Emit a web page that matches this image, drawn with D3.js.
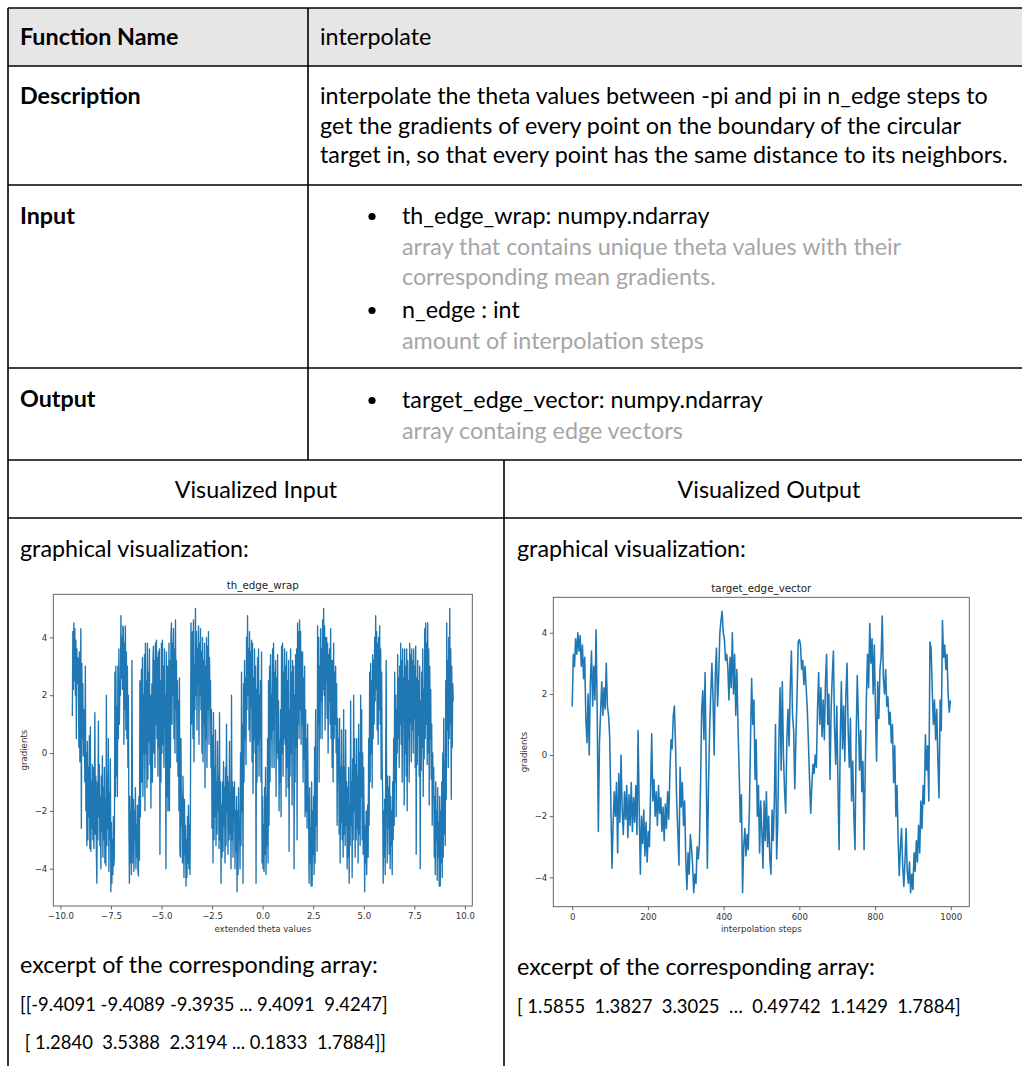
<!DOCTYPE html>
<html>
<head>
<meta charset="utf-8">
<script src="https://cdn.jsdelivr.net/npm/d3@7"></script>
<style>
  body { margin: 0; background: #fff; }
  svg { display: block; }
</style>
</head>
<body>
<svg id="page" width="1022" height="1066"></svg>
<script>
// ---- table text ----
const headerCells = ['Function Name', 'interpolate'];
const rowTitles = ['Description', 'Input', 'Output'];
const descLines = [
  'interpolate the theta values between -pi and pi in n_edge steps to',
  'get the gradients of every point on the boundary of the circular',
  'target in, so that every point has the same distance to its neighbors.',
];
const inputItems = [
  { name: 'th_edge_wrap: numpy.ndarray', note: ['array that contains unique theta values with their', 'corresponding mean gradients.'] },
  { name: 'n_edge : int', note: ['amount of interpolation steps'] },
];
const outputItems = [
  { name: 'target_edge_vector: numpy.ndarray', note: ['array containg edge vectors'] },
];
const vizHeads = ['Visualized Input', 'Visualized Output'];
const vizCaption = 'graphical visualization:';
const excerptCaption = 'excerpt of the corresponding array:';
const excerptLeft = ['[[-9.4091 -9.4089 -9.3935 ... 9.4091  9.4247]', ' [ 1.2840  3.5388  2.3194 ... 0.1833  1.7884]]'];
const excerptRight = ['[ 1.5855  1.3827  3.3025  \u2026  0.49742  1.1429  1.7884]'];

// ---- chart data ----
// th_edge_wrap: gradients along the extended theta range, left to right
const wrapThetaRange = [-9.4091, 9.4247];
const wrapGradients = [
  1.28, 4.2, 2.2, 4.5, 2.5, 4.3, 2.0, 3.9, 0.5, 3.6, 2.4, 3.3, 3.0, 0.2, 3.5, -0.3, 2.7, 4.3,
  -2.6, 3.1, 0.5, 2.4, -0.1, 1.5, 0.9, -1.0, 3.0, -2.0, 0.0, -3.2, 0.4, -3.0, -0.5, -2.2, 0.6, -3.3,
  0.9, -3.4, -1.0, -2.6, -0.4, -3.0, -0.5, -3.3, -1.5, 1.4, -2.8, -0.8, -3.5, -4.5, -1.0, -3.0, 1.1, -2.2,
  -0.4, -3.2, -1.5, -4.0, -0.8, -2.7, -0.1, -3.6, -1.2, -3.0, -0.5, -3.8, -1.6, -3.9, 2.0, -3.2, -0.8, -2.6,
  0.5, -4.1, -1.4, -3.0, -0.2, -4.8, -2.4, -4.5, -3.0, -4.2, -2.2, -3.9, -3.5, 2.8, -1.5, 3.0, -0.8, 1.6,
  -1.5, 3.0, 0.5, 3.6, 1.0, 2.5, 2.0, 4.75, 2.6, 4.0, 2.2, 4.4, 4.3, 0.3, 3.8, 1.5, 4.4, 0.8,
  3.5, 0.5, 3.0, -0.5, 2.0, -2.5, -4.5, -1.5, -3.8, -2.0, -4.2, 3.2, -1.0, -3.8, -1.6, -4.1, -2.0, -3.0,
  -1.2, -4.0, -2.5, -3.6, -1.8, -4.1, -4.25, -1.5, -3.7, 2.5, -2.2, 0.5, 2.9, -1.0, 3.3, -1.5, 2.0, 0.0,
  3.4, -2.0, 3.8, 0.0, 2.5, -1.2, 3.8, -0.9, 2.8, 0.4, 3.6, -0.4, 2.0, -1.9, 1.0, 2.4, -1.0, 3.2,
  3.7, 0.0, 3.2, -0.5, 3.8, 1.0, 3.9, 0.5, 3.3, -0.8, 3.5, 0.2, 3.6, -3.5, 2.5, -1.0, 3.8, 0.0,
  3.9, 0.3, 3.0, -0.5, 3.6, 1.0,
  2.0, -4.0, 3.5, -1.5, 3.0, -2.0, 1.0, 3.8, -2.0, 3.2, -0.5, 4.0, 4.5, 1.0, 3.8, 2.0, 4.3, 0.5,
  3.6, 0.0, 4.6, 1.5, 3.2, -0.3, 2.5, -0.8, 1.8, -2.0, 2.6, -3.5, -3.6, 0.5, -2.5, -1.5, -3.8, -0.8,
  -2.0, -4.3, -1.6, -3.5, -2.5, -4.6, -3.0, -4.3, -2.2, -3.8, -1.8, -4.0, -2.5, -4.2, -1.5, 4.5, 1.0, 3.5,
  4.2, 0.5, 4.6, -0.3, 3.0, 1.5, 5.0, 2.0, 4.2, 0.8, 3.6, 2.4, 4.4, 0.3, 3.8, 2.0, 4.3, 1.5,
  3.5, 0.0, 4.0, -0.3, 3.2, 1.0, 3.8, -1.2, 3.0, 0.5, 4.0, -0.5, 3.7, 1.5, 4.2, 0.3, 3.3, 1.8,
  2.5, -0.5, 1.5, -2.6, 0.6, -3.8, 1.4, -3.0, -0.5, -2.2, 0.8, -3.2, -1.0, -2.8, 0.4, -2.0, -0.8, -3.3,
  1.4, -3.0, -1.0, -4.5, -1.8, -3.6, -1.0, -3.4, -0.3, -2.5, -1.2, -3.8, -0.5, -3.2, 1.0, -2.0, -0.8, -3.5,
  -1.0, -3.0, 0.4, -2.8, -1.5, -4.0, 2.0, -3.0, -1.0, -3.6, -1.2, -2.2, -1.0, -4.0, -2.0, -3.4, -1.5, -4.8,
  -2.0, -4.2, -1.2, -3.0, -2.4, -4.0, 0.0, -3.2, 2.8, -2.0, 1.0, -4.5, 2.4, -1.0, 3.2, 0.5, 2.6, -0.4,
  4.0, 1.5, 4.75, 2.0, 3.6, 0.8, 4.2, 0.4, 3.5, 1.6, 3.9, -0.3, 3.8, -1.4, 2.6, 0.5, 3.6, 0.0,
  3.0, -4.5, 2.2, -1.0, 3.3, 0.3, 3.6, -0.8, 2.0, 0.5,
  2.5, -1.0, 3.5, -3.8, -1.5, -4.0, -2.5, -4.1, -1.2, -3.5, -0.5, -4.2, -1.5, -3.2, 0.5, -3.8, 2.5, -2.5,
  3.0, -1.0, 3.4, 0.5, 2.0, -0.5, 3.6, 0.8, 3.8, -0.5, 2.8, 1.5, 3.2, -1.5, 2.6, 0.0, 3.4, -0.2,
  1.8, -2.0, 0.4, -1.0, 1.5, -2.2, 3.7, 0.0, 3.8, -0.8, 2.8, 0.5, 3.6, 0.3, 3.0, -1.5, 3.5, -0.5,
  2.5, -1.2, 3.2, -3.4, 1.5, -0.8, 3.6, 0.0, 2.8, -1.8, 3.2, 0.5, 3.0, -4.0, 2.0, -1.0, 3.4, 0.2,
  3.6, -3.0, 4.5, 1.0, 4.2, 0.5, 4.6, 1.5, 4.2, 0.3, 3.5, 1.0, 3.5, -1.0, 2.6, -0.2, 3.0, -2.2,
  1.5, -2.0, 0.5, -2.6, 1.0, -1.5, -2.0, -4.5, -1.2, -3.8, -2.6, -4.6, -1.0, -4.6, -2.0, -3.5, -1.5, -4.2,
  0.2, -3.8, 1.5, -2.5, -1.0, -3.4, 4.4, 1.0, 4.0, -1.0, 3.0, 0.5, 4.3, 1.8, 3.6, 0.5, 4.6, 2.2,
  5.0, 2.0, 4.4, 0.8, 4.0, 2.5, 4.0, 1.2, 3.8, 0.0, 3.4, 1.8, 3.6, 1.0, 4.3, 0.5, 3.2, -0.5,
  3.2, -1.0, 3.8, 0.5, 2.8, 1.0, 3.0, 0.0, 2.4, -2.5, 1.2, -1.0, 0.5, -2.8, 1.2, -3.8, -0.5, -2.4,
  0.8, -3.0, -0.5, -3.6, 1.5, -2.8, -0.5, -3.2, 0.8, -2.5, -1.0, -4.0, -1.2, -3.6, -0.5, -4.5, -1.8, -3.2,
  1.8, -2.5, -1.0, -4.3, -0.2, -3.0, 2.0, -2.0, 0.5, -3.6,
  -0.4, -3.0, 0.5, -2.6, -0.8, -3.8, 1.0, -2.8, 0.0, -3.2, 2.0, -1.5, 1.5, -3.0, 0.0, -3.5, -0.5, -2.5,
  -4.8, -2.5, -3.8, -2.0, -4.2, -2.8, -1.8, -3.6, 0.5, -2.5, 2.8, -1.0, 3.1, 0.0, 2.5, -1.2, 3.4, 0.5,
  3.2, 1.0, 4.0, 1.8, 4.75, 2.2, 4.2, 0.8, 3.8, 0.3, 4.0, 1.5, 4.4, 1.0, 3.6, -0.9, 2.8, -0.5,
  -1.5, -4.5, -2.0, -3.6, -1.6, -4.2, -0.5, 3.2, -1.5, -3.8, -0.8, -2.6, -1.2, -3.5, -0.8, -4.0, -1.5, -3.2,
  -2.0, -4.2, -1.0, -3.0, 0.5, -2.5, 2.8, -1.0, 2.0, -2.2, 1.5, 0.0, 3.4, 0.5, 2.6, -0.5, 3.0, 1.0,
  3.8, 0.3, 3.2, -1.0, 3.6, 1.2, 2.6, -1.8, 3.6, 0.0, 3.0, -0.8, 3.6, -2.0, 3.2, 0.5, 2.5, -1.0,
  3.8, 1.0, 3.4, -0.3, 3.6, 0.8, 3.2, 0.0, 3.6, 1.2, 3.0, -0.5, 3.7, -3.5, 2.6, -0.4, 3.2, 0.6,
  2.5, -0.8, 3.0, -4.0, 1.8, -0.6, 2.8, 0.2, 3.6, -1.5, 2.2, -0.2, 4.3, 0.5, 4.5, 1.0, 3.8, -0.4,
  4.5, 0.0, 3.6, -1.8, 3.0, 0.5, 2.2, -0.9, 1.0, -2.5, 0.0, -1.5, -0.5, -3.6, -1.5, -4.2, -1.0, -3.0,
  -2.0, -4.4, -1.2, -3.6, -2.4, -4.6, -1.5, -4.6, -2.0, -3.8, -1.0, -4.3, 0.0, -3.6, 1.2, -2.8, -0.3, -3.2,
  2.5, -1.6, 4.5, 0.8, 3.2, -0.5, 4.0, 0.5, 5.0, 1.0, 3.6, -1.6, 3.0, 0.2, 2.4, 1.7884,
];

// target_edge_vector: one reading every third interpolation step (0 .. 999)
const edgeStride = 3;
const edgeVector = [
  1.59, 3.3, 2.9, 3.8, 3.3, 4.0, 3.4, 3.9, 2.9, 3.6,
  2.5, 3.2, 1.2, 0.4, 2.0, 0.0, 2.4, 3.4, 1.6, 2.9, 1.8, 4.1,
  1.5, -2.5, 0.4, 1.4, 2.4, 1.3, 2.2, 1.5, 3.0, 1.6,
  1.3, 0.6, -1.5, -3.7, -2.3, -1.2, -2.0, -0.9, -3.2, -0.6, -2.2, 0.0, -1.8,
  -2.6, -1.2, -2.1, -1.0, -2.7, -1.3, -2.3, -0.9, -2.5, -1.4, -2.2, -1.0, -2.6, 0.8,
  -1.8, -3.9, -2.0, -2.9, -1.8, -3.3, -2.2, -3.5, -2.5,
  -3.0, -1.2, 0.7, -1.5, -0.8, -2.0,
  -1.2, -2.3, -1.0, -1.9, -1.4, -2.5, -1.7, -2.8, -1.6, -2.4, -1.2, -2.1,
  -0.6, 0.5, 0.2, 1.3, 1.6, 0.3,
  -1.5, -2.5, -3.6, -0.4, -1.7, -0.9, -2.3, -1.5,
  -3.4, -4.4, -3.2, -3.9, -2.6, -3.0, -3.6, -4.5, -3.9, -4.2, -3.0, -3.4, -2.9,
  -1.0, 1.5, 2.1, 0.5, 2.7, -0.5, -3.7, -1.0,
  0.8, 2.0, 3.0, 1.8, 0.0, 2.6, 3.5, 1.6,
  2.6, 4.0, 4.4, 4.7, 4.0, 3.8, 3.1, 3.3, 2.9,
  1.8, 3.2, 2.2, 4.0, 2.0, 3.3, 1.3, 2.8, 0.9, -0.5, -2.2, -1.3, -4.5, -3.0,
  -2.4, -3.3, -2.6, -3.1, -1.8, 0.5, 2.5, 1.0,
  1.8, -0.8, 0.5, -2.0, -1.0, -3.2, -1.5,
  -2.5, -3.7, -1.5, -2.8, -1.2, -3.0, -2.0, -3.4, -3.9, -1.8, -2.8, -1.5, 1.0, -3.4, -2.2,
  0.5, 2.2, -0.5, 2.4, 0.0, -1.2, -1.9, 0.5, 1.5, 0.3, 2.2, 3.4, 1.3, 0.8, -1.1, 0.6, 2.0, 3.7, 3.78, 3.6,
  2.8, 3.1, 2.3, 2.9, 2.2, 1.5, 0.4, -0.8, -1.9, -1.0, -0.3, -0.6, 0.0, -0.4, 1.5,
  2.7, 1.0, 2.2, 0.6, 1.8, 0.5, 2.4, 3.3, 1.0, 2.0, -0.8, 1.5, 2.6, 3.4, 0.9,
  -0.3, 1.6, -1.0, -3.1, 0.5, 2.4, 0.2, 1.6, -0.2, 2.0, 3.0, 0.8,
  -0.4, 1.2, -1.5, -0.2, -2.0, -3.1, 0.5, 2.6, 1.2, -0.5, 0.8, -1.2, -0.2, -3.1, -0.5, 1.8,
  3.3, 2.2, 4.3, 3.0, 3.8, 2.0, 3.6, 1.5, -0.2, 2.4, 1.2, 2.8, 3.2, 4.55, 2.5,
  2.0, 2.8, 1.6, 1.9, 1.0, 1.4, 0.4, 1.0, -0.9, 0.3, -2.0, -1.0,
  -2.8, -3.95, -3.0, -2.4, -3.6, -4.3, -3.5, -2.4, -3.8, -4.2, -3.5, -4.5, -3.9, -4.4,
  -3.2, -3.8, -2.8, -3.5, -2.3, -3.2, -1.5, -2.4, -1.0, -1.6, 0.66, -0.5,
  0.3, -1.5, 3.7, 3.5, 2.2, 1.0, 1.8, 0.5, 1.5, -0.2, -1.4, 1.8, 0.8, 4.4, 3.2, 3.6, 2.8, 3.3, 2.0, 1.4, 1.79,
];

const gradientTicks = [-4, -2, 0, 2, 4];
const thetaTicks = [-10, -7.5, -5, -2.5, 0, 2.5, 5, 7.5, 10];
const stepTicks = [0, 200, 400, 600, 800, 1000];

// ---- page ----
const svg = d3.select('#page');
const BODY_FONT = 'Lato, "Open Sans", sans-serif';
const PLOT_FONT = '"DejaVu Sans", sans-serif';
const GREY_TEXT = '#a6a6a6';

// Calibri is not installed, so size the substitute to the same line widths.
function fitSize(text, target, weight) {
  const t = svg.append('text')
    .style('font-family', BODY_FONT)
    .style('font-size', '20px')
    .style('font-weight', weight || 'normal')
    .style('white-space', 'pre')
    .text(text);
  const w = t.node().getComputedTextLength();
  t.remove();
  return 20 * target / w;
}
const bodySize = fitSize(descLines[2], 688);
const arraySize = fitSize(excerptLeft[0], 368);

// header shading
svg.append('rect')
  .attr('x', 8).attr('y', 8).attr('width', 1014).attr('height', 58)
  .attr('fill', '#e7e6e6');

// grid lines
const grid = svg.append('g').attr('stroke', '#000').attr('stroke-width', 1.6);
[8, 66, 185, 368, 460, 518].forEach(y => {
  grid.append('line').attr('x1', 8).attr('x2', 1022).attr('y1', y).attr('y2', y);
});
grid.append('line').attr('x1', 8).attr('x2', 8).attr('y1', 8).attr('y2', 1066);
grid.append('line').attr('x1', 308).attr('x2', 308).attr('y1', 8).attr('y2', 460);
grid.append('line').attr('x1', 504).attr('x2', 504).attr('y1', 460).attr('y2', 1066);

function addText(str, x, y, opts = {}) {
  return svg.append('text')
    .attr('x', x).attr('y', y)
    .attr('text-anchor', opts.anchor || 'start')
    .style('font-family', BODY_FONT)
    .style('font-size', `${opts.size || bodySize}px`)
    .style('font-weight', opts.bold ? 'bold' : 'normal')
    .style('white-space', 'pre')
    .attr('fill', opts.color || '#000')
    .text(str);
}

addText(headerCells[0], 20, 45, { bold: true });
addText(headerCells[1], 320, 45);

addText(rowTitles[0], 20, 104, { bold: true });
descLines.forEach((line, i) => addText(line, 320, 104 + i * 29.5));

function bulletList(items, startY) {
  let y = startY;
  items.forEach(item => {
    svg.append('circle').attr('cx', 372).attr('cy', y - 7.5).attr('r', 3.6).attr('fill', '#000');
    addText(item.name, 402, y);
    y += 31;
    item.note.forEach(n => {
      addText(n, 402, y, { color: GREY_TEXT });
      y += 30;
    });
    y += 3;
  });
}
addText(rowTitles[1], 20, 224, { bold: true });
bulletList(inputItems, 224);
addText(rowTitles[2], 20, 407, { bold: true });
bulletList(outputItems, 408);

addText(vizHeads[0], 256, 498, { anchor: 'middle' });
addText(vizHeads[1], 769, 498, { anchor: 'middle' });

addText(vizCaption, 20, 557);
addText(vizCaption, 517, 557);
addText(excerptCaption, 20, 973);
addText(excerptCaption, 517, 975);
addText(excerptLeft[0], 20, 1011, { size: arraySize });
addText(excerptLeft[1], 20, 1049, { size: arraySize });
addText(excerptRight[0], 517, 1013, { size: arraySize });

// ---- matplotlib-like line plots ----
function padded(extent) {
  const m = (extent[1] - extent[0]) * 0.05;
  return [extent[0] - m, extent[1] + m];
}

function drawPlot(cfg) {
  const g = svg.append('g');
  const x = d3.scaleLinear().domain(padded(d3.extent(cfg.points, d => d[0]))).range([cfg.left, cfg.right]);
  const y = d3.scaleLinear().domain(padded(d3.extent(cfg.points, d => d[1]))).range([cfg.bottom, cfg.top]);

  g.append('path')
    .datum(cfg.points)
    .attr('d', d3.line().x(d => x(d[0])).y(d => y(d[1])))
    .attr('fill', 'none')
    .attr('stroke', '#1f77b4')
    .attr('stroke-width', cfg.lineWidth)
    .attr('stroke-linejoin', 'round');

  const xAxis = g.append('g')
    .attr('transform', `translate(0,${cfg.bottom})`)
    .call(d3.axisBottom(x).tickValues(cfg.xTicks).tickFormat(cfg.xFormat).tickSizeOuter(0).tickSize(3.5).tickPadding(3.5));
  const yAxis = g.append('g')
    .attr('transform', `translate(${cfg.left},0)`)
    .call(d3.axisLeft(y).tickValues(gradientTicks).tickFormat(d3.format('d')).tickSizeOuter(0).tickSize(3.5).tickPadding(2.5));
  [xAxis, yAxis].forEach(ax => {
    ax.select('.domain').remove();
    ax.selectAll('line').attr('stroke', '#555').attr('stroke-width', 0.9);
    ax.selectAll('text').attr('fill', '#333').style('font-family', PLOT_FONT).style('font-size', '8.6px');
  });

  g.append('rect')
    .attr('x', cfg.left).attr('y', cfg.top)
    .attr('width', cfg.right - cfg.left).attr('height', cfg.bottom - cfg.top)
    .attr('fill', 'none').attr('stroke', '#555').attr('stroke-width', 0.9);

  const mid = (cfg.left + cfg.right) / 2;
  g.append('text')
    .attr('x', mid).attr('y', cfg.top - 5.5)
    .attr('text-anchor', 'middle')
    .attr('fill', '#222')
    .style('font-family', PLOT_FONT).style('font-size', '10.3px')
    .text(cfg.title);
  g.append('text')
    .attr('x', mid).attr('y', cfg.bottom + 25.5)
    .attr('text-anchor', 'middle')
    .attr('fill', '#333')
    .style('font-family', PLOT_FONT).style('font-size', '8.6px')
    .text(cfg.xLabel);
  g.append('text')
    .attr('transform', `translate(${cfg.left - 26},${(cfg.top + cfg.bottom) / 2}) rotate(-90)`)
    .attr('text-anchor', 'middle')
    .attr('fill', '#333')
    .style('font-family', PLOT_FONT).style('font-size', '8.6px')
    .text('gradients');
}

const thetaAt = d3.scaleLinear().domain([0, wrapGradients.length - 1]).range(wrapThetaRange);

drawPlot({
  left: 53.3, right: 472.3, top: 594.3, bottom: 906,
  points: wrapGradients.map((v, i) => [thetaAt(i), v]),
  xTicks: thetaTicks,
  xFormat: d3.format('.1f'),
  title: 'th_edge_wrap',
  xLabel: 'extended theta values',
  lineWidth: 1.35,
});

drawPlot({
  left: 553.3, right: 969.3, top: 597.3, bottom: 906.7,
  points: edgeVector.map((v, i) => [i * edgeStride, v]),
  xTicks: stepTicks,
  xFormat: d3.format('d'),
  title: 'target_edge_vector',
  xLabel: 'interpolation steps',
  lineWidth: 1.55,
});
</script>
</body>
</html>
